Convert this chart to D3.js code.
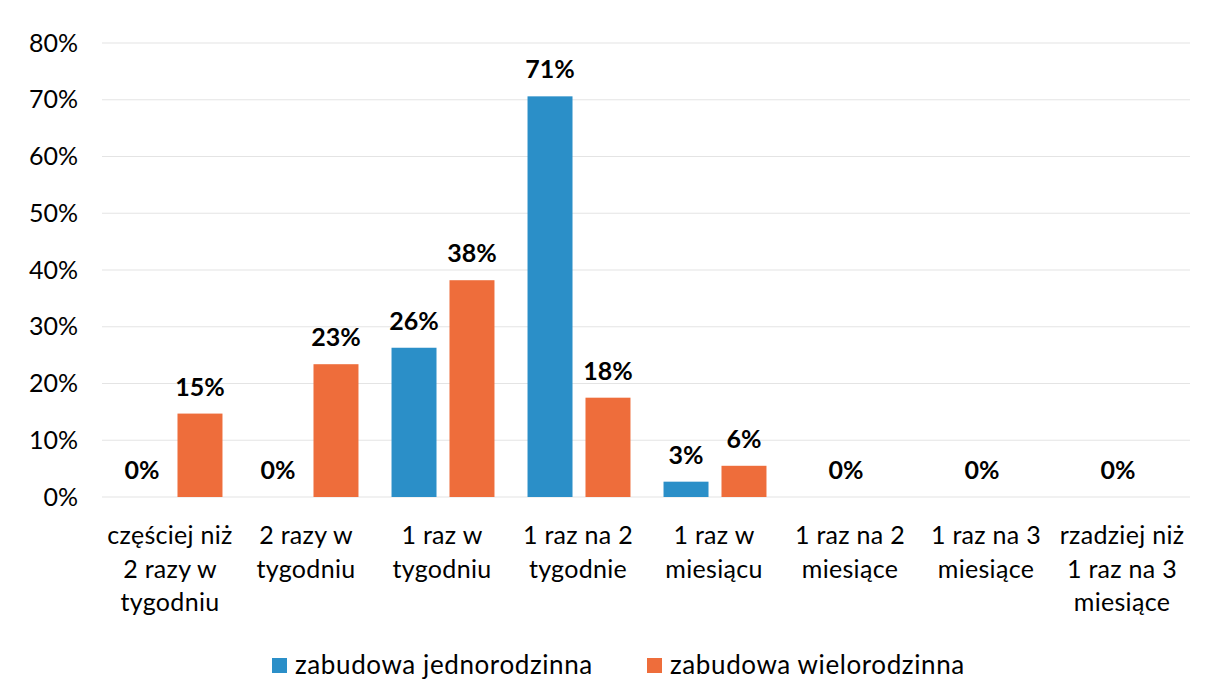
<!DOCTYPE html>
<html>
<head>
<meta charset="utf-8">
<script src="https://cdn.jsdelivr.net/npm/d3@7"></script>
<style>
  body { margin: 0; background: #fff; }
  text { font-family: Lato, "Open Sans", sans-serif; fill: #000; }
</style>
</head>
<body>
<svg id="chart" width="1206" height="697"></svg>
<script>
// categories (lines of each label split with |)
const categories = [
  'częściej niż|2 razy w|tygodniu',
  '2 razy w|tygodniu',
  '1 raz w|tygodniu',
  '1 raz na 2|tygodnie',
  '1 raz w|miesiącu',
  '1 raz na 2|miesiące',
  '1 raz na 3|miesiące',
  'rzadziej niż|1 raz na 3|miesiące',
];
const seriesNames = ['zabudowa jednorodzinna', 'zabudowa wielorodzinna'];
const jednorodzinna = [0, 0, 26.3, 70.6, 2.7, 0, 0, 0];
const wielorodzinna = [14.7, 23.4, 38.2, 17.5, 5.5, 0, 0, 0];
const yTicks = [0, 10, 20, 30, 40, 50, 60, 70, 80];

const colors = ['#2b8fc8', '#ee6d3b'];

let svg = d3.select('#chart');
let margin = {top: 43, left: 102, right: 16, bottom: 200};
let width = 1206 - margin.left - margin.right;
let height = 697 - margin.top - margin.bottom;

let scale = {
  x: d3.scaleBand().domain(d3.range(categories.length)).range([0, width]),
  y: d3.scaleLinear().domain([0, 80]).range([height, 0]),
};
// bars inside one category
scale.x1 = d3.scaleBand().domain([0, 1])
             .range([0, scale.x.bandwidth()])
             .paddingInner(0.224).paddingOuter(0.285);

let g = svg.append('g').attr('transform', `translate(${margin.left}, ${margin.top})`);

// gridlines
g.append('g').selectAll('line')
 .data(yTicks)
 .enter().append('line')
 .attr('x1', 0).attr('x2', width)
 .attr('y1', (d) => scale.y(d)).attr('y2', (d) => scale.y(d))
 .attr('stroke', '#e4e4e4').attr('stroke-width', 1.2);

// y axis labels
let axisY = g.append('g')
             .call(d3.axisLeft(scale.y).tickValues(yTicks).tickFormat((d) => d + '%').tickSize(0).tickPadding(24));
axisY.select('.domain').remove();
axisY.selectAll('text').style('font-size', '25px').style('font-family', 'Lato, sans-serif').attr('fill', '#000');

// bars
let rows = categories.map((c, i) => ({i: i, values: [jednorodzinna[i], wielorodzinna[i]]}));
let groups = g.selectAll('g.cat')
              .data(rows)
              .enter().append('g')
              .classed('cat', true)
              .attr('transform', (d) => `translate(${scale.x(d.i) + 1}, 0)`);

groups.selectAll('rect')
      .data((d) => d.values.map((v, s) => ({s: s, v: v})))
      .enter().append('rect')
      .attr('x', (d) => scale.x1(d.s))
      .attr('y', (d) => scale.y(d.v))
      .attr('width', scale.x1.bandwidth())
      .attr('height', (d) => height - scale.y(d.v))
      .attr('fill', (d) => colors[d.s]);

// value labels; a category with both zeros gets one label in the middle
groups.each(function(d) {
  let sel = d3.select(this);
  let items = d.values.every((v) => v === 0) ?
    [{x: scale.x.bandwidth() / 2 - 5, v: 0}] :
    d.values.map((v, s) => ({x: scale.x1(s) + scale.x1.bandwidth() / 2, v: v}));
  sel.selectAll('text.val')
     .data(items)
     .enter().append('text')
     .classed('val', true)
     .attr('x', (e) => e.x)
     .attr('y', (e) => scale.y(e.v) - 18)
     .attr('text-anchor', 'middle')
     .style('font-size', '25px')
     .style('font-weight', 'bold')
     .text((e) => Math.round(e.v) + '%');
});

// category labels
let catText = g.append('g').selectAll('text')
               .data(categories)
               .enter().append('text')
               .attr('text-anchor', 'middle')
               .attr('x', (d, i) => scale.x(i) + scale.x.bandwidth() / 2)
               .attr('y', height + 47)
               .style('font-size', '25px')
               .style('letter-spacing', '0.3px');
catText.selectAll('tspan')
       .data((d) => d.split('|'))
       .enter().append('tspan')
       .attr('x', function() { return this.parentNode.getAttribute('x'); })
       .attr('dy', (d, i) => i === 0 ? 0 : 33.5)
       .text((d) => d);

// legend
let legendX = [272, 647];
let legend = svg.append('g').selectAll('g')
                .data(seriesNames)
                .enter().append('g')
                .attr('transform', (d, i) => `translate(${legendX[i]}, 658)`);
legend.append('rect').attr('width', 15).attr('height', 15).attr('fill', (d, i) => colors[i]);
legend.append('text').attr('x', (d, i) => i === 0 ? 23 : 23).attr('y', 16)
      .style('font-size', '26px').style('letter-spacing', '0.6px').text((d) => d);
</script>
</body>
</html>
